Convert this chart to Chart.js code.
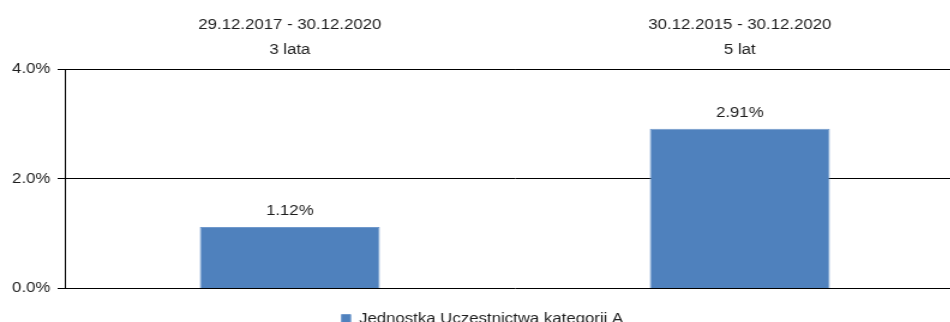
<!DOCTYPE html>
<html>
<head>
<meta charset="utf-8">
<script src="https://cdn.jsdelivr.net/npm/chart.js@4.4.0/dist/chart.umd.min.js"></script>
<style>
  html, body { margin: 0; padding: 0; background: #fff; overflow: hidden; }
  /* chart is laid out narrow and stretched sideways, like the original export */
  #wrap { width: 804px; height: 336px; transform: scaleX(1.2); transform-origin: 0 0; }
</style>
</head>
<body>
<div id="wrap"><canvas id="chart"></canvas></div>
<script>
const periods = ['29.12.2017 - 30.12.2020', '30.12.2015 - 30.12.2020'];
const spans = ['3 lata', '5 lat'];
const unitA = [1.12, 2.91];
const seriesName = 'Jednostka Uczestnictwa kategorii A';
const yMin = 0;
const yMax = 4;
const yStep = 2;

const FONT = '"Liberation Sans", Arial, sans-serif';
const INK = '#1e1e1e';

// percentage printed above each bar
const valueLabels = {
  id: 'valueLabels',
  afterDatasetsDraw(chart) {
    const ctx = chart.ctx;
    const meta = chart.getDatasetMeta(0);
    ctx.save();
    ctx.font = '14px ' + FONT;
    ctx.fillStyle = INK;
    ctx.textAlign = 'center';
    ctx.textBaseline = 'alphabetic';
    meta.data.forEach((bar, i) => {
      ctx.fillText(unitA[i].toFixed(2) + '%', bar.x, bar.y - 11.5);
    });
    ctx.restore();
  }
};

new Chart(document.getElementById('chart'), {
  type: 'bar',
  data: {
    labels: periods.map((p, i) => [p, spans[i]]),
    datasets: [{
      label: seriesName,
      data: unitA,
      backgroundColor: '#4f81bd',
      borderColor: '#7099cc',
      borderWidth: 1,
      barPercentage: 0.4,
      categoryPercentage: 1
    }]
  },
  options: {
    responsive: true,
    maintainAspectRatio: false,
    animation: false,
    layout: { padding: { top: 6, right: 0, left: 0, bottom: 0 } },
    plugins: {
      tooltip: { enabled: false },
      legend: {
        position: 'bottom',
        labels: {
          boxWidth: 7.5,
          boxHeight: 9,
          padding: 23.6,
          color: INK,
          font: { family: FONT, size: 14 }
        }
      }
    },
    scales: {
      x: {
        position: 'top',
        grid: { display: false, drawTicks: false },
        border: { display: true, color: '#000' },
        ticks: {
          color: INK,
          padding: 6.5,
          maxRotation: 0,
          font: { family: FONT, size: 14, lineHeight: 25 / 14 }
        }
      },
      y: {
        min: yMin,
        max: yMax,
        afterFit: (s) => { s.width = 54; },
        grid: { color: '#000', lineWidth: 1, tickLength: 6 },
        border: { color: '#000', width: 1 },
        ticks: {
          stepSize: yStep,
          padding: 6,
          color: INK,
          font: { family: FONT, size: 14 },
          callback: (v) => v.toFixed(1) + '%'
        }
      }
    }
  },
  plugins: [valueLabels]
});
</script>
</body>
</html>
